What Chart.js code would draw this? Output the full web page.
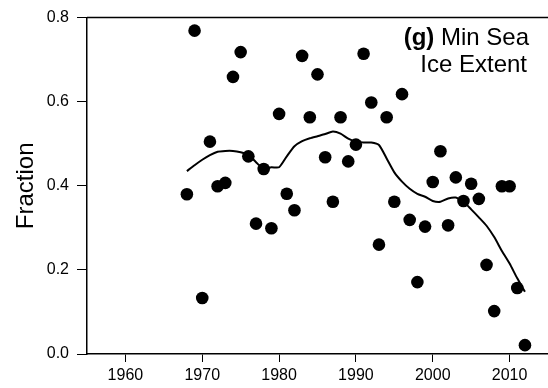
<!DOCTYPE html>
<html>
<head>
<meta charset="utf-8">
<script src="https://cdn.jsdelivr.net/npm/chart.js@4/dist/chart.umd.min.js"></script>
<style>
  body { margin: 0; background: #fff; }
</style>
</head>
<body>
<canvas id="iceChart" width="548" height="388"></canvas>
<script>
// Yearly fraction values
const years = [1968, 1969, 1970, 1971, 1972, 1973, 1974, 1975, 1976, 1977,
               1978, 1979, 1980, 1981, 1982, 1983, 1984, 1985, 1986, 1987,
               1988, 1989, 1990, 1991, 1992, 1993, 1994, 1995, 1996, 1997,
               1998, 1999, 2000, 2001, 2002, 2003, 2004, 2005, 2006, 2007,
               2008, 2009, 2010, 2011, 2012];
const fraction = [0.380, 0.769, 0.133, 0.505, 0.399, 0.407, 0.659, 0.718, 0.470, 0.310,
                  0.440, 0.299, 0.571, 0.381, 0.342, 0.709, 0.563, 0.665, 0.468, 0.362,
                  0.563, 0.458, 0.498, 0.714, 0.598, 0.260, 0.563, 0.362, 0.618, 0.319,
                  0.171, 0.303, 0.409, 0.482, 0.306, 0.420, 0.364, 0.405, 0.369, 0.212,
                  0.102, 0.399, 0.399, 0.157, 0.021];
// Smoothed curve
const smooth = [0.435, 0.449, 0.462, 0.473, 0.481, 0.483, 0.483, 0.480, 0.474, 0.456,
                0.440, 0.444, 0.444, 0.470, 0.494, 0.506, 0.513, 0.518, 0.523, 0.529,
                0.524, 0.512, 0.505, 0.503, 0.503, 0.497, 0.465, 0.432, 0.410, 0.393,
                0.381, 0.374, 0.364, 0.362, 0.370, 0.372, 0.362, 0.344, 0.325, 0.305,
                0.278, 0.245, 0.215, 0.180, 0.148];
const xTicks = [1960, 1970, 1980, 1990, 2000, 2010];
const yTicks = [0, 0.2, 0.4, 0.6, 0.8];

const FONT = "'Liberation Sans', Arial, sans-serif";

// top frame line + panel label
const framePlugin = {
    id: 'frame',
    afterDraw(chart) {
        const { ctx, chartArea } = chart;
        ctx.save();
        ctx.strokeStyle = '#000';
        ctx.lineWidth = 1.5;
        ctx.beginPath();
        ctx.moveTo(chartArea.left, chartArea.top);
        ctx.lineTo(chartArea.right, chartArea.top);
        ctx.stroke();

        ctx.fillStyle = '#000';
        ctx.textAlign = 'right';
        ctx.textBaseline = 'alphabetic';
        const rx = 529;
        ctx.font = '24px ' + FONT;
        const rest = ' Min Sea';
        ctx.fillText(rest, rx, 45);
        const w = ctx.measureText(rest).width;
        ctx.font = 'bold 24px ' + FONT;
        ctx.fillText('(g)', rx - w, 45);
        ctx.font = '24px ' + FONT;
        ctx.fillText('Ice Extent', rx - 2, 72);
        ctx.restore();
    }
};

const ctx = document.getElementById('iceChart').getContext('2d');
new Chart(ctx, {
    type: 'scatter',
    data: {
        datasets: [{
            label: 'Smoothed',
            type: 'line',
            data: years.map((y, i) => ({ x: y, y: smooth[i] })),
            borderColor: '#000',
            borderWidth: 2,
            pointRadius: 0,
            tension: 0.2,
            fill: false
        }, {
            label: 'Fraction',
            data: years.map((y, i) => ({ x: y, y: fraction[i] })),
            backgroundColor: '#000',
            borderWidth: 0,
            pointRadius: 6.3
        }]
    },
    options: {
        responsive: false,
        animation: false,
        layout: { autoPadding: false, padding: { top: 15, right: 0, left: 0, bottom: 0 } },
        plugins: {
            legend: { display: false },
            tooltip: { enabled: false }
        },
        scales: {
            x: {
                type: 'linear',
                min: 1955,
                max: 2015,
                afterBuildTicks: axis => { axis.ticks = xTicks.map(v => ({ value: v })); },
                afterFit: axis => { axis.height = 34; },
                border: { color: '#000', width: 1.5 },
                grid: { drawOnChartArea: false, tickLength: 8, color: '#000', tickWidth: 1 },
                ticks: {
                    color: '#000',
                    padding: 4,
                    maxRotation: 0,
                    font: { family: FONT, size: 16 },
                    callback: v => String(v)
                }
            },
            y: {
                min: 0,
                max: 0.8,
                afterBuildTicks: axis => { axis.ticks = yTicks.map(v => ({ value: v })); },
                afterFit: axis => { axis.width = 87; },
                border: { color: '#000', width: 1.5 },
                grid: { drawOnChartArea: false, tickLength: 10, color: '#000', tickWidth: 1 },
                ticks: {
                    color: '#000',
                    padding: 8,
                    font: { family: FONT, size: 16 },
                    callback: v => Number(v).toFixed(1)
                },
                title: {
                    display: true,
                    text: 'Fraction',
                    color: '#000',
                    padding: { top: 12, bottom: 0 },
                    font: { family: FONT, size: 24 }
                }
            }
        }
    },
    plugins: [framePlugin]
});
</script>
</body>
</html>
